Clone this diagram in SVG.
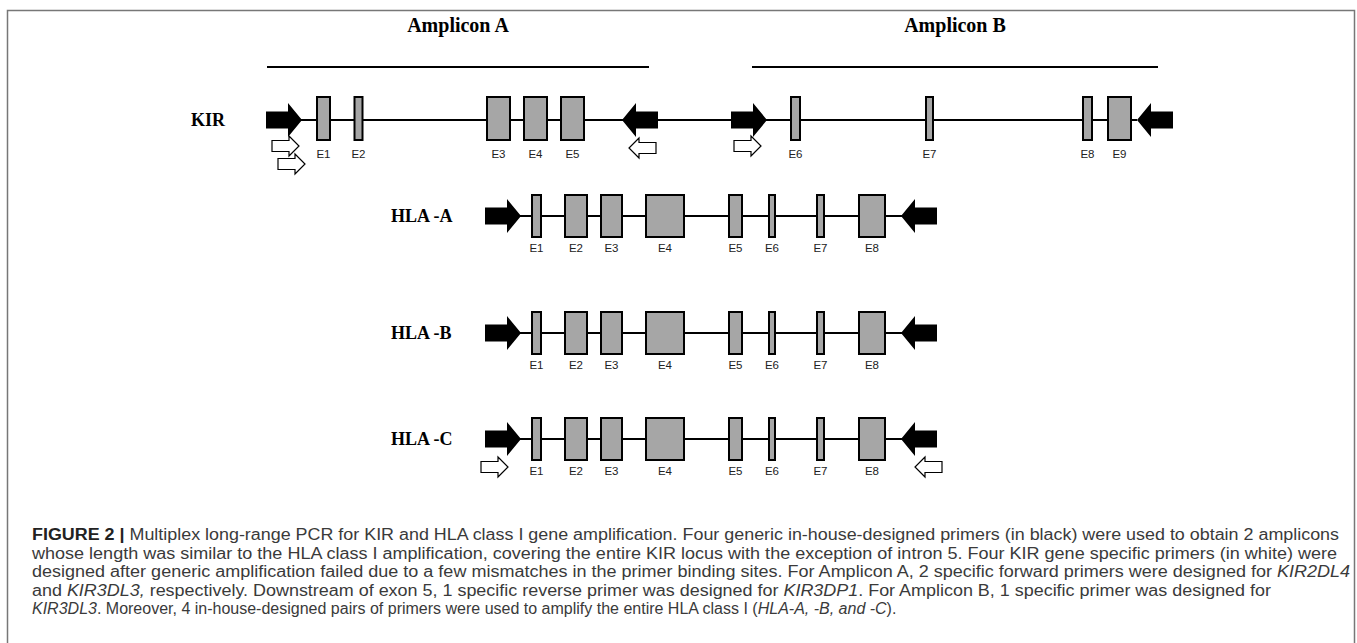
<svg xmlns="http://www.w3.org/2000/svg" xmlns:xlink="http://www.w3.org/1999/xlink" width="1357" height="643" viewBox="0 0 1357 643">
  <style>
    .frame { fill: #fff; stroke: #777; stroke-width: 1.5; }
    .bar { stroke: #000; stroke-width: 2; fill: none; }
    .exon { fill: #a6a6a6; stroke: #000; stroke-width: 2; }
    .black { fill: #000; stroke: none; }
    .white { fill: #fff; stroke: #000; stroke-width: 1.2; stroke-linejoin: miter; }
    .title { font-family: "Liberation Serif", "Times New Roman", serif; font-weight: bold; font-size: 20px; fill: #000; }
    .gene { font-family: "Liberation Serif", "Times New Roman", serif; font-weight: bold; font-size: 18px; fill: #000; }
    .ex { font-family: "Liberation Sans", Arial, sans-serif; font-size: 11.5px; fill: #222; text-anchor: middle; }
    .cap { font-family: "Liberation Sans", Arial, sans-serif; font-size: 16px; fill: #3a3a3a; }
    .capb { font-weight: bold; fill: #222; }
    .it { font-style: italic; }
  </style>
  <defs>
    <!-- primer shapes, tip at the origin, pointing right -->
    <path id="primer" d="M-36,-8.5 H-14 V-17 L0,0 L-14,17 V8.5 H-36 Z"/>
    <path id="primerSmall" d="M-27,-5.5 H-10 V-10 L0,0 L-10,10 V5.5 H-27 Z"/>
  </defs>

  <rect class="frame" x="7.5" y="10.5" width="1347" height="645"/>

  <!-- backbones and amplicon spans -->
  <g id="connectors">
    <line class="bar" x1="267" y1="67" x2="649" y2="67"/>
    <line class="bar" x1="752" y1="67" x2="1158" y2="67"/>
    <line class="bar" x1="300" y1="120" x2="1137" y2="120"/>
    <line class="bar" x1="519" y1="216" x2="902" y2="216"/>
    <line class="bar" x1="519" y1="333" x2="902" y2="333"/>
    <line class="bar" x1="519" y1="439" x2="902" y2="439"/>
  </g>

  <g id="amplicon-a">
    <text class="title" x="458" y="32" text-anchor="middle">Amplicon A</text>
  </g>
  <g id="amplicon-b">
    <text class="title" x="955" y="32" text-anchor="middle">Amplicon B</text>
  </g>

  <!-- KIR locus -->
  <g id="kir">
    <text class="gene" x="191" y="126">KIR</text>
    <use href="#primer" class="black" transform="translate(302,120)"/>
    <use href="#primer" class="black" transform="translate(622,120) scale(-1,1)"/>
    <use href="#primer" class="black" transform="translate(767,120)"/>
    <use href="#primer" class="black" transform="translate(1137,120) scale(-1,1)"/>
    <use href="#primerSmall" class="white" transform="translate(299,146)"/>
    <use href="#primerSmall" class="white" transform="translate(305,164)"/>
    <use href="#primerSmall" class="white" transform="translate(629,148) scale(-1,1)"/>
    <use href="#primerSmall" class="white" transform="translate(761,146)"/>
    <rect class="exon" x="317" y="97" width="13" height="43"/>
    <rect class="exon" x="354.5" y="97" width="8" height="43"/>
    <rect class="exon" x="487" y="97" width="23" height="43"/>
    <rect class="exon" x="524" y="97" width="23" height="43"/>
    <rect class="exon" x="561" y="97" width="23" height="43"/>
    <rect class="exon" x="791" y="97" width="9" height="43"/>
    <rect class="exon" x="926" y="97" width="7" height="43"/>
    <rect class="exon" x="1083" y="97" width="9" height="43"/>
    <rect class="exon" x="1108" y="97" width="23" height="43"/>
    <text class="ex" x="323.5" y="158">E1</text>
    <text class="ex" x="358.5" y="158">E2</text>
    <text class="ex" x="498.5" y="158">E3</text>
    <text class="ex" x="535.5" y="158">E4</text>
    <text class="ex" x="572.5" y="158">E5</text>
    <text class="ex" x="795.5" y="158">E6</text>
    <text class="ex" x="929.5" y="158">E7</text>
    <text class="ex" x="1087.5" y="158">E8</text>
    <text class="ex" x="1119.5" y="158">E9</text>
  </g>

  <!-- HLA-A -->
  <g id="hla-a" transform="translate(0,216)">
    <text class="gene" x="391" y="6">HLA -A</text>
    <use href="#primer" class="black" transform="translate(521,0)"/>
    <use href="#primer" class="black" transform="translate(901,0) scale(-1,1)"/>
    <rect class="exon" x="532" y="-21" width="9" height="42"/>
    <rect class="exon" x="565" y="-21" width="22" height="42"/>
    <rect class="exon" x="601" y="-21" width="21" height="42"/>
    <rect class="exon" x="646" y="-21" width="38" height="42"/>
    <rect class="exon" x="729" y="-21" width="13" height="42"/>
    <rect class="exon" x="769" y="-21" width="6" height="42"/>
    <rect class="exon" x="817" y="-21" width="7" height="42"/>
    <rect class="exon" x="859" y="-21" width="26" height="42"/>
    <text class="ex" x="536.5" y="36">E1</text>
    <text class="ex" x="576" y="36">E2</text>
    <text class="ex" x="611.5" y="36">E3</text>
    <text class="ex" x="665" y="36">E4</text>
    <text class="ex" x="735.5" y="36">E5</text>
    <text class="ex" x="772" y="36">E6</text>
    <text class="ex" x="820.5" y="36">E7</text>
    <text class="ex" x="872" y="36">E8</text>
  </g>

  <!-- HLA-B -->
  <g id="hla-b" transform="translate(0,333)">
    <text class="gene" x="391" y="6">HLA -B</text>
    <use href="#primer" class="black" transform="translate(521,0)"/>
    <use href="#primer" class="black" transform="translate(901,0) scale(-1,1)"/>
    <rect class="exon" x="532" y="-21" width="9" height="42"/>
    <rect class="exon" x="565" y="-21" width="22" height="42"/>
    <rect class="exon" x="601" y="-21" width="21" height="42"/>
    <rect class="exon" x="646" y="-21" width="38" height="42"/>
    <rect class="exon" x="729" y="-21" width="13" height="42"/>
    <rect class="exon" x="769" y="-21" width="6" height="42"/>
    <rect class="exon" x="817" y="-21" width="7" height="42"/>
    <rect class="exon" x="859" y="-21" width="26" height="42"/>
    <text class="ex" x="536.5" y="36">E1</text>
    <text class="ex" x="576" y="36">E2</text>
    <text class="ex" x="611.5" y="36">E3</text>
    <text class="ex" x="665" y="36">E4</text>
    <text class="ex" x="735.5" y="36">E5</text>
    <text class="ex" x="772" y="36">E6</text>
    <text class="ex" x="820.5" y="36">E7</text>
    <text class="ex" x="872" y="36">E8</text>
  </g>

  <!-- HLA-C -->
  <g id="hla-c" transform="translate(0,439)">
    <text class="gene" x="391" y="6">HLA -C</text>
    <use href="#primer" class="black" transform="translate(521,0)"/>
    <use href="#primer" class="black" transform="translate(901,0) scale(-1,1)"/>
    <use href="#primerSmall" class="white" transform="translate(508,28)"/>
    <use href="#primerSmall" class="white" transform="translate(915,28) scale(-1,1)"/>
    <rect class="exon" x="532" y="-21" width="9" height="42"/>
    <rect class="exon" x="565" y="-21" width="22" height="42"/>
    <rect class="exon" x="601" y="-21" width="21" height="42"/>
    <rect class="exon" x="646" y="-21" width="38" height="42"/>
    <rect class="exon" x="729" y="-21" width="13" height="42"/>
    <rect class="exon" x="769" y="-21" width="6" height="42"/>
    <rect class="exon" x="817" y="-21" width="7" height="42"/>
    <rect class="exon" x="859" y="-21" width="26" height="42"/>
    <text class="ex" x="536.5" y="36">E1</text>
    <text class="ex" x="576" y="36">E2</text>
    <text class="ex" x="611.5" y="36">E3</text>
    <text class="ex" x="665" y="36">E4</text>
    <text class="ex" x="735.5" y="36">E5</text>
    <text class="ex" x="772" y="36">E6</text>
    <text class="ex" x="820.5" y="36">E7</text>
    <text class="ex" x="872" y="36">E8</text>
  </g>

  <!-- caption -->
  <g id="caption" class="cap">
    <text x="32" y="540" textLength="1307" lengthAdjust="spacingAndGlyphs"><tspan class="capb">FIGURE 2 |</tspan> Multiplex long-range PCR for KIR and HLA class I gene amplification. Four generic in-house-designed primers (in black) were used to obtain 2 amplicons</text>
    <text x="32" y="558.5" textLength="1305" lengthAdjust="spacingAndGlyphs">whose length was similar to the HLA class I amplification, covering the entire KIR locus with the exception of intron 5. Four KIR gene specific primers (in white) were</text>
    <text x="32" y="577" textLength="1318" lengthAdjust="spacingAndGlyphs">designed after generic amplification failed due to a few mismatches in the primer binding sites. For Amplicon A, 2 specific forward primers were designed for <tspan class="it">KIR2DL4</tspan></text>
    <text x="32" y="595.5" textLength="1239" lengthAdjust="spacingAndGlyphs">and <tspan class="it">KIR3DL3,</tspan> respectively. Downstream of exon 5, 1 specific reverse primer was designed for <tspan class="it">KIR3DP1</tspan>. For Amplicon B, 1 specific primer was designed for</text>
    <text x="32" y="614"><tspan class="it">KIR3DL3</tspan>. Moreover, 4 in-house-designed pairs of primers were used to amplify the entire HLA class I (<tspan class="it">HLA-A, -B, and -C</tspan>).</text>
  </g>
</svg>
